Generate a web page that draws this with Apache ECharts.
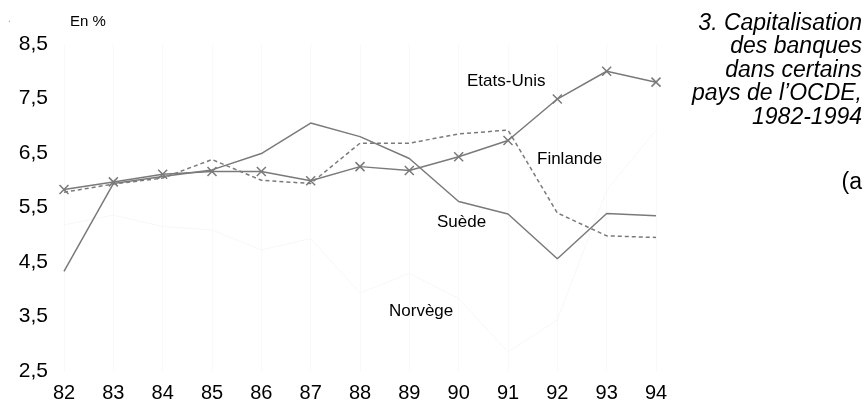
<!DOCTYPE html>
<html lang="fr">
<head>
    <meta charset="UTF-8">
    <title>Capitalisation des banques</title>
    <script src="https://cdn.jsdelivr.net/npm/echarts@6/dist/echarts.min.js"></script>
    <style>
        body { margin: 0; background: #fff; }
    </style>
</head>
<body>
    <div id="chart" style="width: 866px; height: 408px"></div>
    <script type="text/javascript">
        // annees (axe x)
        const years = ['82', '83', '84', '85', '86', '87', '88', '89', '90', '91', '92', '93', '94'];
        // en %
        const etatsUnis = [5.83, 5.97, 6.11, 6.16, 6.16, 5.99, 6.25, 6.18, 6.43, 6.73, 7.49, 8.0, 7.80];
        const finlande = [5.78, 5.93, 6.04, 6.38, 6.0, 5.94, 6.68, 6.68, 6.85, 6.92, 5.40, 4.98, 4.95];
        const suede = [4.33, 5.94, 6.07, 6.19, 6.49, 7.05, 6.80, 6.40, 5.61, 5.38, 4.56, 5.39, 5.35];
        const norvege = [5.18, 5.36, 5.15, 5.09, 4.72, 4.93, 3.93, 4.29, 3.83, 2.85, 3.44, 5.82, 6.92];
        const yTicks = [2.5, 3.5, 4.5, 5.5, 6.5, 7.5, 8.5];
        const titleLines = ['3. Capitalisation', 'des banques', 'dans certains', 'pays de l’OCDE,', '1982-1994'];

        const grey = '#7a7a7a';
        const font = 'Liberation Sans, Arial, sans-serif';

        let chart = echarts.init(document.getElementById('chart'));

        let graphics = [
            {type: 'text', left: 8, top: 14, style: {text: '.', fill: '#999', font: '10px ' + font}},
            {type: 'text', left: 70, top: 14, style: {text: 'En %', fill: '#000', font: '15px ' + font}},
            {type: 'text', left: 467, top: 73, style: {text: 'Etats-Unis', fill: '#000', font: '17px ' + font}},
            {type: 'text', left: 537, top: 151, style: {text: 'Finlande', fill: '#000', font: '17px ' + font}},
            {type: 'text', left: 437, top: 214, style: {text: 'Suède', fill: '#000', font: '17px ' + font}},
            {type: 'text', left: 389, top: 303, style: {text: 'Norvège', fill: '#000', font: '17px ' + font}},
            {type: 'text', right: 4, top: 171, style: {text: '(a', fill: '#000', font: '23px ' + font}}
        ];
        titleLines.forEach((line, i) => {
            graphics.push({
                type: 'text', right: 4, top: 12 + i * 23.5,
                style: {text: line, fill: '#000', font: 'italic 23px ' + font}
            });
        });
        graphics.forEach(g => { g.z = 100; });

        let option = {
            animation: false,
            grid: {left: 64, right: 210, top: 44, bottom: 37},
            xAxis: {
                type: 'category',
                data: years,
                boundaryGap: false,
                axisLine: {show: false},
                axisTick: {show: false},
                axisLabel: {color: '#000', fontSize: 20, fontFamily: font, margin: 12},
                splitLine: {show: true, lineStyle: {color: '#f9f9f9', width: 1}}
            },
            yAxis: {
                type: 'value',
                min: yTicks[0],
                max: yTicks[yTicks.length - 1],
                interval: 1,
                axisLine: {show: false},
                axisTick: {show: false},
                splitLine: {show: false},
                axisLabel: {
                    color: '#000', fontSize: 21, fontFamily: font, margin: 16,
                    formatter: v => v.toFixed(1).replace('.', ',')
                }
            },
            series: [
                {
                    name: 'Norvège', type: 'line', data: norvege,
                    symbol: 'none',
                    lineStyle: {color: '#f7f7f7', width: 1}
                },
                {
                    name: 'Finlande', type: 'line', data: finlande,
                    symbol: 'none',
                    lineStyle: {color: grey, width: 1.5, type: [4, 3]}
                },
                {
                    name: 'Suède', type: 'line', data: suede,
                    symbol: 'none',
                    lineStyle: {color: grey, width: 1.5}
                },
                {
                    name: 'Etats-Unis', type: 'line', data: etatsUnis,
                    symbol: 'path://M0,0L10,10M10,0L0,10',
                    symbolSize: 9,
                    itemStyle: {color: 'none', borderColor: grey, borderWidth: 1.5},
                    lineStyle: {color: grey, width: 1.5}
                }
            ],
            graphic: graphics
        };
        chart.setOption(option);
    </script>
</body>
</html>
